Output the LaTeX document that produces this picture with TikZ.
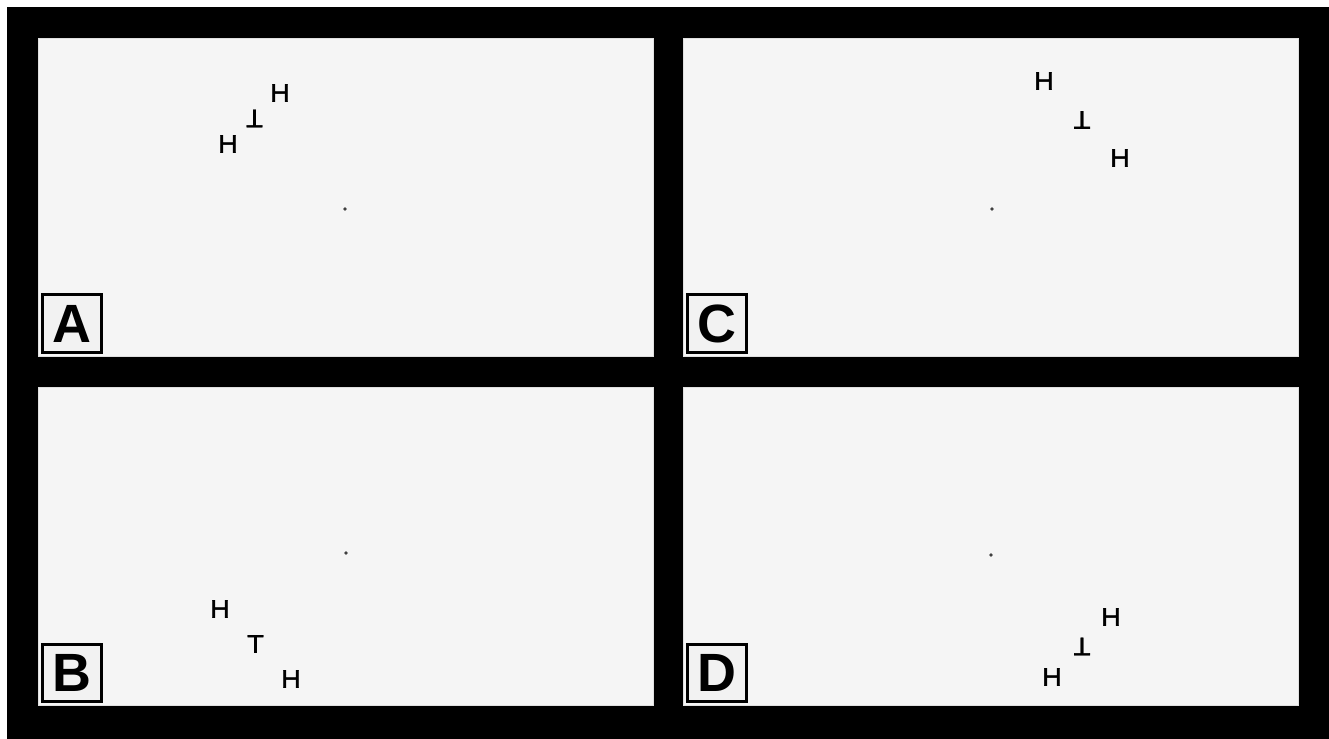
\documentclass[tikz,border=0pt]{standalone}
\usepackage{fontspec}
\setmainfont{Liberation Sans}
\newfontfamily\stimfont[FakeBold=1.3]{Liberation Sans}
\begin{document}
\begin{tikzpicture}[x=0.03cm, y=-0.03cm,
  panel/.style={fill=black!4, draw=black!12, line width=0.5pt},
  letter/.style={inner sep=0pt, xscale=1.08, font=\stimfont\fontsize{21.8}{22}\selectfont},
  tag/.style={draw=black, line width=2.6pt, fill=black!5, inner sep=0pt,
    minimum width=50pt, minimum height=49pt, font=\fontsize{46}{48}\selectfont\bfseries},
  fix/.style={circle, fill=black!75, inner sep=0pt, minimum size=3.2pt}]
  \useasboundingbox (0,0) rectangle (1329,739);
  \fill[white] (0,0) rectangle (1329,739);
  \fill[black] (7,7) rectangle (1329,739);

  % the four screens
  \filldraw[panel] (38,38) rectangle (653,356);
  \filldraw[panel] (683,38) rectangle (1298,356);
  \filldraw[panel] (38,387) rectangle (653,705);
  \filldraw[panel] (683,387) rectangle (1298,705);

  % panel A
  \node[fix] (fixA) at (345,209) {};
  \node[letter] (hA1) at (280,93) {H};
  \node[letter, rotate=180] (tA) at (254.5,118.5) {T};
  \node[letter] (hA2) at (228,144) {H};
  \node[tag] (tagA) at (72,323.5) {A};

  % panel C
  \node[fix] (fixC) at (992,209) {};
  \node[letter] (hC1) at (1044,81) {H};
  \node[letter, rotate=180] (tC) at (1082,120) {T};
  \node[letter] (hC2) at (1120,158) {H};
  \node[tag] (tagC) at (717,323.5) {C};

  % panel B
  \node[fix] (fixB) at (346,553) {};
  \node[letter] (hB1) at (220,609) {H};
  \node[letter] (tB) at (255.5,644) {T};
  \node[letter] (hB2) at (291,679) {H};
  \node[tag] (tagB) at (72,673) {B};

  % panel D
  \node[fix] (fixD) at (991,555) {};
  \node[letter] (hD1) at (1111,617) {H};
  \node[letter, rotate=180] (tD) at (1082,646.5) {T};
  \node[letter] (hD2) at (1052,677) {H};
  \node[tag] (tagD) at (717,673) {D};
\end{tikzpicture}
\end{document}
